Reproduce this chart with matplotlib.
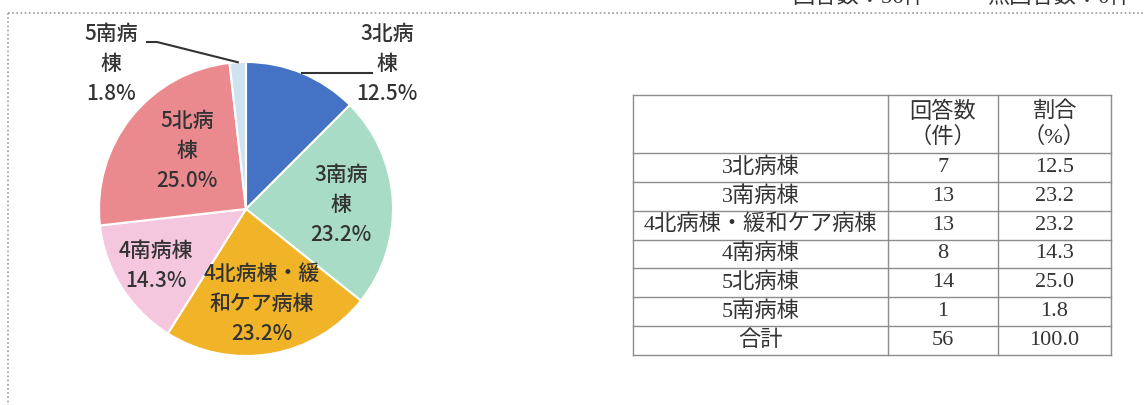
import matplotlib
matplotlib.use('Agg')
import matplotlib.pyplot as plt
import numpy as np

# ---------------- data ----------------
categories = ['3北病棟', '3南病棟', '4北病棟・緩和ケア病棟', '4南病棟', '5北病棟', '5南病棟']
counts = [7, 13, 13, 8, 14, 1]
percents = [12.5, 23.2, 23.2, 14.3, 25.0, 1.8]
pie_labels = ['3北病\n棟', '3南病\n棟', '4北病棟・緩\n和ケア病棟', '4南病棟', '5北病\n棟', '5南病\n棟']
total_label = '合計'
total_count = 56
total_percent = 100.0
col_headers = ['', '回答数\n（件）', '割合\n（%）']
header_texts = ['回答数：56件', '無回答数：0件']

# ---------------- style ----------------
colors = ['#4472c4', '#a9dcc6', '#f1b327', '#f4c7de', '#ea8a8f', '#cfe2f0']
label_color = '#333333'
pie_font = ['Noto Sans CJK JP', 'DejaVu Sans']
table_font = ['Liberation Serif', 'Noto Sans CJK JP', 'DejaVu Sans']

W, H = 1145, 405
fig = plt.figure(figsize=(W / 100, H / 100), dpi=100)
fig.patch.set_facecolor('white')

# overlay axes in pixel coordinates (frame, table, header)
ov = fig.add_axes([0, 0, 1, 1])
ov.set_xlim(0, W)
ov.set_ylim(H, 0)
ov.axis('off')

# dotted frame
ov.plot([8, W], [13, 13], ls=(0, (1, 1.5)), color='#9a9a9a', lw=1.2)
ov.plot([8, 8], [13, H], ls=(0, (1, 1.5)), color='#9a9a9a', lw=1.2)

# header text (cut by the top edge, as in the source)
ov.text(792, 8, header_texts[0], fontsize=16, family=table_font, color='#333333',
        ha='left', va='bottom')
ov.text(987, 8, header_texts[1], fontsize=16, family=table_font, color='#333333',
        ha='left', va='bottom')

# ---------------- pie ----------------
cx, cy, R = 246, 209, 147
axp = fig.add_axes([(cx - R) / W, (H - cy - R) / H, 2 * R / W, 2 * R / H])
axp.patch.set_visible(False)
wedges, _ = axp.pie(counts, colors=colors, startangle=90, counterclock=False, radius=1,
                    wedgeprops=dict(edgecolor='white', linewidth=1.5))
axp.set_xlim(-1, 1)
axp.set_ylim(-1, 1)
axp.axis('off')

label_pos = [(0.959, 0.986), (0.646, 0.027), (0.109, -0.646),
             (-0.612, -0.388), (-0.40, 0.395), (-0.918, 0.986)]
for i, (lab, p) in enumerate(zip(pie_labels, percents)):
    x, y = label_pos[i]
    axp.text(x, y, f'{lab}\n{p:.1f}%', ha='center', va='center', fontsize=15,
             family=pie_font, color=label_color, linespacing=1.45, fontweight='medium',
             clip_on=False)

def edge_point(w):
    mid = np.deg2rad((w.theta1 + w.theta2) / 2)
    return np.cos(mid), np.sin(mid)

# leader for 3北
ex, ey = edge_point(wedges[0])
axp.plot([ex, 0.857], [ey, ey], color='#333333', lw=1.5, clip_on=False)
# leader for 5南
ex, ey = edge_point(wedges[5])
axp.plot([ex, -0.605, -0.673], [ey, 1.136, 1.136], color='#333333', lw=1.5, clip_on=False)

# ---------------- table ----------------
xs = [633, 888, 998, 1111]
y_top, y_head, y_bot = 95, 153, 355
rows = [(c, str(n), f'{p:.1f}') for c, n, p in zip(categories, counts, percents)]
rows.append((total_label, str(total_count), f'{total_percent:.1f}'))
nrows = len(rows)
row_h = (y_bot - y_head) / nrows
line_c = '#8c8c8c'

ov.plot([xs[0], xs[-1]], [y_top, y_top], color=line_c, lw=1)
for r in range(nrows + 1):
    y = y_head + r * row_h
    ov.plot([xs[0], xs[-1]], [y, y], color=line_c, lw=1)
for x in xs:
    ov.plot([x, x], [y_top, y_bot], color=line_c, lw=1)

for j, h in enumerate(col_headers):
    if h:
        top_line, bottom_line = h.split('\n')
        xc = (xs[j] + xs[j + 1]) / 2
        ov.text(xc, 112, top_line, ha='center', va='center',
                fontsize=16, family=table_font, color='#333333')
        ov.text(xc, 137, bottom_line, ha='center', va='center',
                fontsize=16, family=table_font, color='#333333')

for r, row in enumerate(rows):
    yc = y_head + (r + 0.5) * row_h
    for j, val in enumerate(row):
        ov.text((xs[j] + xs[j + 1]) / 2, yc, val, ha='center', va='center',
                fontsize=16, family=table_font, color='#333333')

fig.savefig('out.png', dpi=100, facecolor='white')
